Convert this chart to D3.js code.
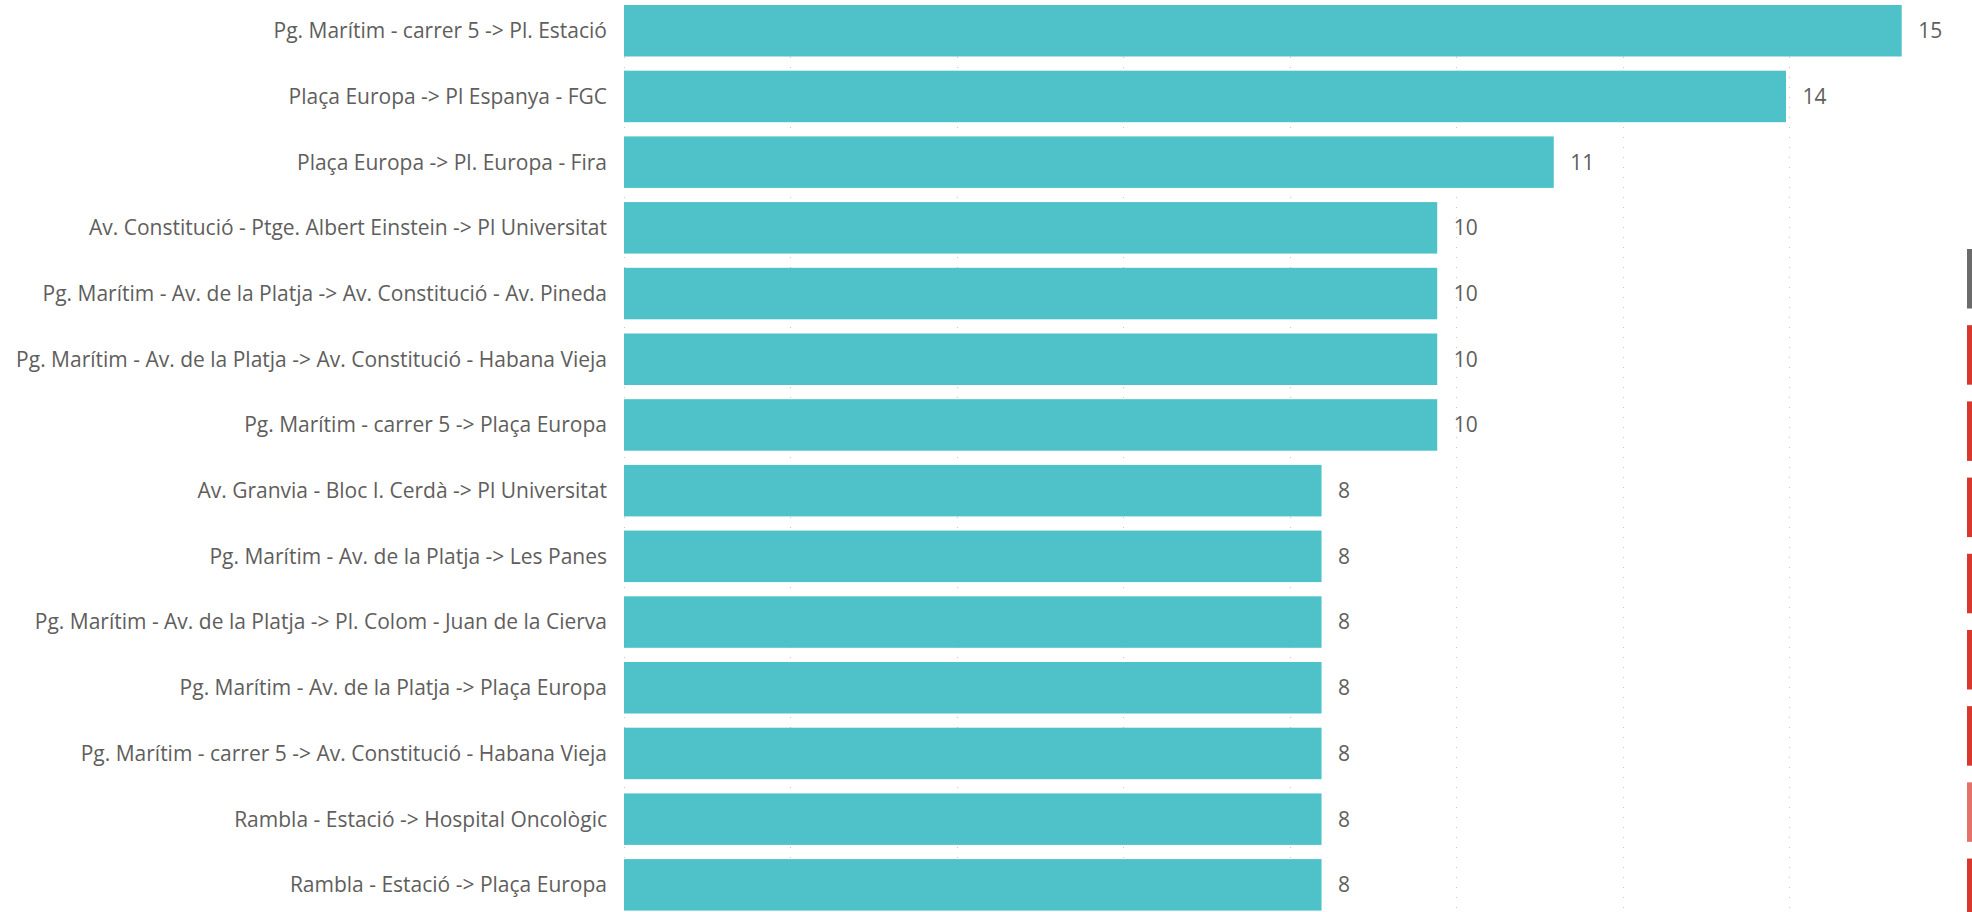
<!DOCTYPE html>
<html>
<head>
<meta charset="utf-8">
<script src="https://cdn.jsdelivr.net/npm/d3@7"></script>
<style>
  body { margin: 0; background: #fff; }
  svg { display: block; }
  text { font-family: "Open Sans", "Noto Sans", sans-serif; fill: #605e5c; }
</style>
</head>
<body>
<svg class="chart"></svg>
<script>
/**
 * Trajectes - barres horitzontals
 */

var routes = [
  'Pg. Marítim - carrer 5 -> Pl. Estació',
  'Plaça Europa -> Pl Espanya - FGC',
  'Plaça Europa -> Pl. Europa - Fira',
  'Av. Constitució - Ptge. Albert Einstein -> Pl Universitat',
  'Pg. Marítim - Av. de la Platja -> Av. Constitució - Av. Pineda',
  'Pg. Marítim - Av. de la Platja -> Av. Constitució - Habana Vieja',
  'Pg. Marítim - carrer 5 -> Plaça Europa',
  'Av. Granvia - Bloc I. Cerdà -> Pl Universitat',
  'Pg. Marítim - Av. de la Platja -> Les Panes',
  'Pg. Marítim - Av. de la Platja -> Pl. Colom - Juan de la Cierva',
  'Pg. Marítim - Av. de la Platja -> Plaça Europa',
  'Pg. Marítim - carrer 5 -> Av. Constitució - Habana Vieja',
  'Rambla - Estació -> Hospital Oncològic',
  'Rambla - Estació -> Plaça Europa'
];
var values = [15.35, 13.96, 11.17, 9.77, 9.77, 9.77, 9.77, 8.38, 8.38, 8.38, 8.38, 8.38, 8.38, 8.38];
var gridTicks = [0, 2, 4, 6, 8, 10, 12, 14];

// the cut-off indicators on the right edge
var markerStatus = ['neutral', 'bad', 'bad', 'bad', 'bad', 'bad', 'bad', 'warn', 'bad'];

var width = 1972, height = 912;
var svg = d3.select('svg.chart')
    .attr('width', width)
    .attr('height', height);

var x = d3.scaleLinear()
    .domain([0, 15.35])
    .range([624, 1901.7]);

var y = d3.scaleBand()
    .domain(routes)
    .range([-2.1, 917.7])
    .paddingInner(0.216)
    .paddingOuter(0.108);

// dotted vertical gridlines
svg.append('g')
  .selectAll('line')
    .data(gridTicks)
  .enter().append('line')
    .attr('x1', function(d) { return Math.round(x(d)) + 0.5; })
    .attr('x2', function(d) { return Math.round(x(d)) + 0.5; })
    .attr('y1', 0)
    .attr('y2', height)
    .attr('stroke', '#c8c6c4')
    .attr('stroke-width', 1)
    .attr('stroke-dasharray', '1,9')
    .attr('stroke-dashoffset', -7);

svg.append('g')
  .selectAll('rect')
    .data(values)
  .enter().append('rect')
    .attr('x', x(0))
    .attr('y', function(d, i) { return y(routes[i]); })
    .attr('width', function(d) { return x(d) - x(0); })
    .attr('height', y.bandwidth())
    .attr('fill', '#4fc2c9');

// category labels
svg.append('g')
  .selectAll('text')
    .data(routes)
  .enter().append('text')
    .attr('x', x(0) - 17)
    .attr('y', function(d) { return y(d) + y.bandwidth() / 2; })
    .attr('dy', '0.35em')
    .attr('text-anchor', 'end')
    .style('font-size', '21px')
    .text(function(d) { return d; });

// value labels
var fmt = d3.format('.0f');
svg.append('g')
  .selectAll('text')
    .data(values)
  .enter().append('text')
    .attr('x', function(d) { return x(d) + 16.5; })
    .attr('y', function(d, i) { return y(routes[i]) + y.bandwidth() / 2; })
    .attr('dy', '0.35em')
    .style('font-size', '21px')
    .text(function(d) { return fmt(d); });

var m = d3.scaleBand()
    .domain(d3.range(markerStatus.length))
    .range([249, 249 + 74.5 * markerStatus.length])
    .paddingInner(0.2);
var markerColor = { neutral: '#6b6b6b', bad: '#d9372c', warn: '#e5726a' };

svg.append('g')
  .selectAll('rect')
    .data(markerStatus)
  .enter().append('rect')
    .attr('x', 1967)
    .attr('y', function(d, i) { return m(i); })
    .attr('width', 5)
    .attr('height', 59.5)
    .attr('fill', function(d) { return markerColor[d]; });
</script>
</body>
</html>
